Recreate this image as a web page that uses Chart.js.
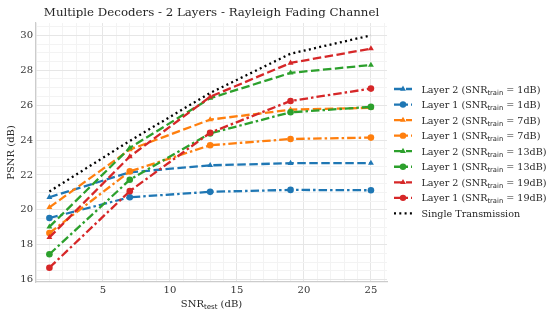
<!DOCTYPE html>
<html>
<head>
<meta charset="utf-8">
<script src="https://cdn.jsdelivr.net/npm/chart.js@4.4.1/dist/chart.umd.min.js"></script>
<style>
  html, body { margin: 0; padding: 0; background: #ffffff; }
  #wrap { width: 559px; height: 316px; }
</style>
</head>
<body>
<div id="wrap"><canvas id="c" width="559" height="316"></canvas></div>
<script>
// ---- data ----
const snrTest = [1, 7, 13, 19, 25];
const layer2_1dB  = [20.72, 22.15, 22.55, 22.67, 22.68];
const layer1_1dB  = [19.53, 20.72, 21.03, 21.14, 21.12];
const layer2_7dB  = [20.14, 23.45, 25.17, 25.74, 25.85];
const layer1_7dB  = [18.67, 22.20, 23.70, 24.06, 24.14];
const layer2_13dB = [19.02, 23.55, 26.40, 27.85, 28.30];
const layer1_13dB = [17.45, 21.72, 24.38, 25.59, 25.90];
const layer2_19dB = [18.42, 23.05, 26.48, 28.42, 29.24];
const layer1_19dB = [16.68, 21.07, 24.42, 26.24, 26.95];
const singleTx    = [21.05, 23.95, 26.70, 28.95, 30.00];
const xTickLabels = [5, 10, 15, 20, 25];
const yTickLabels = [16, 18, 20, 22, 24, 26, 28, 30];

const titleText = 'Multiple Decoders - 2 Layers - Rayleigh Fading Channel';

const BLUE = '#1f77b4', ORANGE = '#ff7f0e', GREEN = '#2ca02c', RED = '#d62728';
const DASH = [8.5, 3.5];
const DASHDOT = [8.5, 3, 2.5, 3];
const DOT = [2, 3.3];

const seriesDefs = [
  { label: 'Layer 2', snr: '1dB',  data: layer2_1dB,  color: BLUE,   marker: 'triangle', dash: DASH },
  { label: 'Layer 1', snr: '1dB',  data: layer1_1dB,  color: BLUE,   marker: 'circle',   dash: DASHDOT },
  { label: 'Layer 2', snr: '7dB',  data: layer2_7dB,  color: ORANGE, marker: 'triangle', dash: DASH },
  { label: 'Layer 1', snr: '7dB',  data: layer1_7dB,  color: ORANGE, marker: 'circle',   dash: DASHDOT },
  { label: 'Layer 2', snr: '13dB', data: layer2_13dB, color: GREEN,  marker: 'triangle', dash: DASH },
  { label: 'Layer 1', snr: '13dB', data: layer1_13dB, color: GREEN,  marker: 'circle',   dash: DASHDOT },
  { label: 'Layer 2', snr: '19dB', data: layer2_19dB, color: RED,    marker: 'triangle', dash: DASH },
  { label: 'Layer 1', snr: '19dB', data: layer1_19dB, color: RED,    marker: 'circle',   dash: DASHDOT },
  { label: 'Single Transmission', snr: null, data: singleTx, color: '#000000', marker: null, dash: DOT }
];

const N = seriesDefs.length;
const datasets = seriesDefs.map((s, i) => ({
  label: s.snr ? s.label + ' (SNR_train = ' + s.snr + ')' : s.label,
  data: snrTest.map((x, k) => ({ x: x, y: s.data[k] })),
  borderColor: s.color,
  backgroundColor: s.color,
  borderWidth: 2.3,
  borderDash: s.dash,
  borderCapStyle: 'butt',
  showLine: true,
  tension: 0,
  pointStyle: s.marker || 'circle',
  pointRadius: s.marker ? (s.marker === 'triangle' ? 3.4 : 3.3) : 0,
  pointHoverRadius: 0,
  pointBorderWidth: 0,
  order: N - i
}));

const SERIF = '"DejaVu Serif", serif';
const SANS = '"DejaVu Sans", sans-serif';
const TXT = '#262626';

function drawMarker(ctx, type, x, y, color) {
  ctx.save();
  ctx.fillStyle = color;
  ctx.setLineDash([]);
  if (type === 'circle') {
    ctx.beginPath();
    ctx.arc(x, y, 3.2, 0, Math.PI * 2);
    ctx.fill();
  } else if (type === 'triangle') {
    const r = 3.4;
    ctx.beginPath();
    ctx.moveTo(x, y - r);
    ctx.lineTo(x + r * 0.866, y + r * 0.5);
    ctx.lineTo(x - r * 0.866, y + r * 0.5);
    ctx.closePath();
    ctx.fill();
  }
  ctx.restore();
}

const overlay = {
  id: 'overlay',
  afterDraw(chart) {
    const ctx = chart.ctx;
    const ca = chart.chartArea;
    ctx.save();
    // title
    ctx.fillStyle = TXT;
    ctx.font = '11.8px ' + SERIF;
    ctx.textAlign = 'center';
    ctx.textBaseline = 'middle';
    ctx.fillText(titleText, (ca.left + ca.right) / 2, 12.5);

    // x label: SNR_test (dB)
    const cx = (ca.left + ca.right) / 2;
    const ly = 303.5;
    ctx.textBaseline = 'alphabetic';
    ctx.textAlign = 'left';
    ctx.font = '10px ' + SERIF;
    const a = 'SNR', c = ' (dB)';
    const wa = ctx.measureText(a).width, wc = ctx.measureText(c).width;
    ctx.font = '7px ' + SANS;
    const wb = ctx.measureText('test').width;
    let x0 = cx - (wa + wb + wc) / 2;
    const base = ly + 3.5;
    ctx.font = '10px ' + SERIF;
    ctx.fillText(a, x0, base);
    ctx.font = '7px ' + SANS;
    ctx.fillText('test', x0 + wa, base + 2);
    ctx.font = '10px ' + SERIF;
    ctx.fillText(c, x0 + wa + wb, base);

    // y label
    ctx.save();
    ctx.translate(11.7, (ca.top + ca.bottom) / 2);
    ctx.rotate(-Math.PI / 2);
    ctx.textAlign = 'center';
    ctx.textBaseline = 'middle';
    ctx.font = '10px ' + SERIF;
    ctx.fillText('PSNR (dB)', 0, 0);
    ctx.restore();

    // legend
    const y0 = 89, dy = 15.55;
    const lx1 = 394, lx2 = 412, tx = 421.5;
    seriesDefs.forEach((s, i) => {
      const y = y0 + i * dy;
      ctx.save();
      ctx.strokeStyle = s.color;
      ctx.lineWidth = 2.3;
      ctx.setLineDash(s.dash);
      ctx.lineCap = 'butt';
      ctx.beginPath();
      ctx.moveTo(lx1, y);
      ctx.lineTo(lx2, y);
      ctx.stroke();
      ctx.restore();
      if (s.marker) drawMarker(ctx, s.marker, (lx1 + lx2) / 2, y, s.color);
      ctx.fillStyle = TXT;
      ctx.textAlign = 'left';
      ctx.textBaseline = 'alphabetic';
      const b = y + 3.5;
      if (s.snr) {
        ctx.font = '9.6px ' + SERIF;
        const p1 = s.label + ' (SNR';
        ctx.fillText(p1, tx, b);
        let w = ctx.measureText(p1).width;
        ctx.font = '6.8px ' + SANS;
        ctx.fillText('train', tx + w, b + 2);
        w += ctx.measureText('train').width;
        ctx.font = '9.6px ' + SERIF;
        ctx.fillText(' = ' + s.snr + ')', tx + w, b);
      } else {
        ctx.font = '9.6px ' + SERIF;
        ctx.fillText(s.label, tx, b);
      }
    });
    ctx.restore();
  }
};

const xGridTicks = [];
for (let v = 0; v <= 26; v++) xGridTicks.push(v);
const yGridTicks = [];
for (let v = 16; v <= 30.5 + 1e-9; v += 0.5) yGridTicks.push(Math.round(v * 10) / 10);

new Chart(document.getElementById('c'), {
  type: 'scatter',
  data: { datasets: datasets },
  options: {
    responsive: false,
    animation: false,
    events: [],
    layout: { padding: { top: 23, right: 172, left: 0, bottom: 0 } },
    plugins: { legend: { display: false }, title: { display: false }, tooltip: { enabled: false } },
    scales: {
      x: {
        type: 'linear',
        min: 0,
        max: 26.2,
        afterBuildTicks(scale) { scale.ticks = xGridTicks.map(v => ({ value: v })); },
        afterFit(scale) { scale.height = 34; },
        ticks: {
          autoSkip: false,
          maxRotation: 0,
          padding: 2,
          color: '#333333',
          font: { family: 'DejaVu Serif', size: 10 },
          callback: (v) => xTickLabels.includes(v) ? String(v) : ''
        },
        grid: {
          drawTicks: false,
          color: (ctx) => (ctx.tick && xTickLabels.includes(ctx.tick.value)) ? '#e6e6e6' : '#f3f3f3',
          lineWidth: 1
        },
        border: { display: true, color: '#cccccc', width: 1.2 }
      },
      y: {
        type: 'linear',
        min: 15.86,
        max: 30.71,
        afterBuildTicks(scale) { scale.ticks = yGridTicks.map(v => ({ value: v })); },
        afterFit(scale) { scale.width = 36; },
        ticks: {
          autoSkip: false,
          padding: 3,
          color: '#333333',
          font: { family: 'DejaVu Serif', size: 10 },
          callback: (v) => yTickLabels.includes(v) ? String(v) : ''
        },
        grid: {
          drawTicks: false,
          color: (ctx) => (ctx.tick && yTickLabels.includes(ctx.tick.value)) ? '#e6e6e6' : '#f3f3f3',
          lineWidth: 1
        },
        border: { display: true, color: '#cccccc', width: 1.2 }
      }
    }
  },
  plugins: [overlay]
});
</script>
</body>
</html>
